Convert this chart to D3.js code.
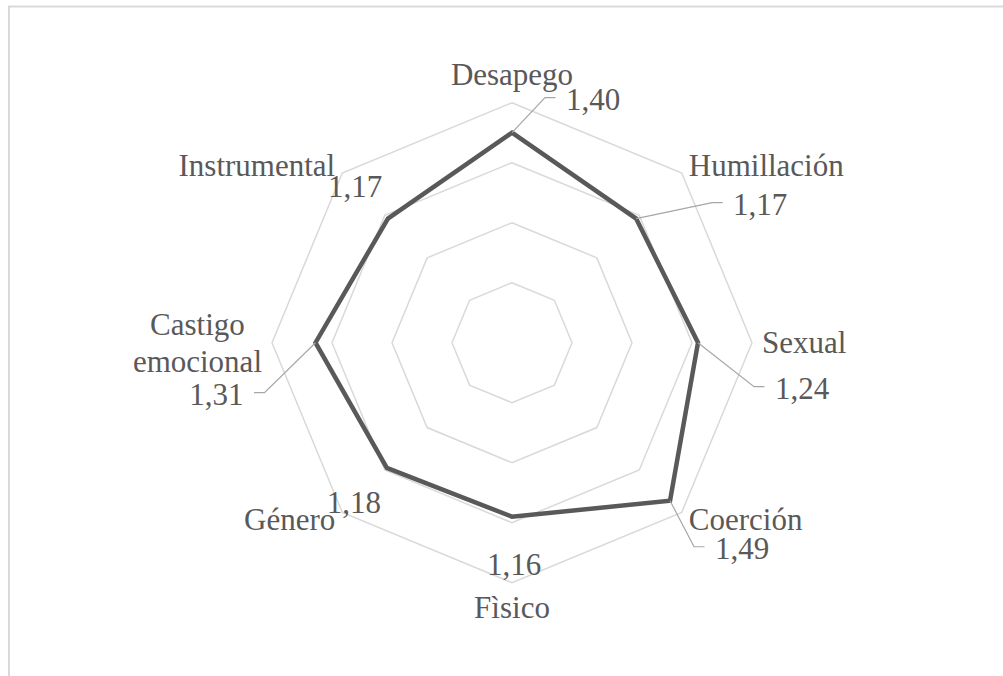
<!DOCTYPE html>
<html>
<head>
<meta charset="utf-8">
<script src="https://cdn.jsdelivr.net/npm/d3@7"></script>
<style>
  html, body { margin: 0; padding: 0; background: #fff; }
  svg { display: block; }
</style>
</head>
<body>
<svg id="chart" width="1003" height="676"></svg>
<script>
// data
const categories = ["Desapego", "Humillación", "Sexual", "Coerción", "Fìsico", "Género", "Castigo emocional", "Instrumental"];
const values = [1.40, 1.17, 1.24, 1.49, 1.16, 1.18, 1.31, 1.17];
const valueLabels = ["1,40", "1,17", "1,24", "1,49", "1,16", "1,18", "1,31", "1,17"];
const gridTicks = [0.4, 0.8, 1.2, 1.6];

// where Excel put the data labels (relative to their point) and whether they got a leader line
const labelOffsets = [[54, -23], [97, -4], [77, 56], [45, 58], [-25, 58], [-60, 45], [-72, 62], [-60, -22]];
const labelAnchors = ["start", "start", "start", "start", "start", "start", "end", "start"];
const labelLeaders = [true, true, true, true, false, false, true, false];

const cx = 512, cy = 342.7, fs = 31;
const font = "'Liberation Serif', 'Times New Roman', Times, 'DejaVu Serif', serif";

let svg = d3.select("#chart");

// chart area border (runs off right and bottom)
svg.append("rect").attr("x", 9).attr("y", 6.5).attr("width", 1010).attr("height", 700)
    .style("fill", "none").style("stroke", "#d9d9d9").style("stroke-width", 2);

let g = svg.append("g").attr("transform", "translate(" + cx + "," + cy + ")");

let r = d3.scaleLinear().domain([0, 1.6]).range([0, 240]);
let angle = d3.scaleLinear().domain([0, categories.length]).range([0, 2 * Math.PI]);

let radial = d3.lineRadial().angle((d, i) => angle(i)).radius(d => r(d)).curve(d3.curveLinearClosed);

// octagon grid
g.selectAll("path.grid").data(gridTicks).enter().append("path").attr("class", "grid")
    .attr("d", t => radial(categories.map(() => t)))
    .style("fill", "none").style("stroke", "#d9d9d9").style("stroke-width", 1.5);

// series
g.append("path").attr("d", radial(values))
    .style("fill", "none").style("stroke", "#595959").style("stroke-width", 4.5).style("stroke-linejoin", "miter");

function pt(i, v) {
    let a = angle(i);
    return [Math.sin(a) * r(v), -Math.cos(a) * r(v)];
}

// category labels just outside the outer ring
g.selectAll("text.cat").data(categories).enter().append("text").attr("class", "cat")
    .attr("font-family", font).attr("font-size", fs).attr("fill", "#595959")
    .each(function(d, i) {
        let a = angle(i), s = Math.sin(a), c = Math.cos(a);
        let p = pt(i, 1.6), x = p[0] + s * 10, y = p[1] - c * 10;
        let anchor = Math.abs(s) < 0.01 ? "middle" : (s > 0 ? "start" : "end");
        let words = d.split(" ");
        let lh = 36.7;
        let base;
        if (c > 0.99) base = y - 7.7;
        else if (c < -0.99) base = y + 25.6;
        else base = y - (words.length - 1) * lh / 2 + 10.5;
        let t = d3.select(this).attr("text-anchor", anchor);
        if (words.length > 1) {
            // two-line label is centred as a block
            t.attr("text-anchor", "middle");
            words.forEach((w, k) => {
                t.append("tspan").attr("x", 0).attr("y", base + k * lh).text(w);
            });
            let bw = this.getBBox().width;
            t.selectAll("tspan").attr("x", anchor == "end" ? x - bw / 2 : x + bw / 2);
        } else {
            t.attr("x", x).attr("y", base).text(d);
        }
    });

// data labels with leader lines
values.forEach((v, i) => {
    let p = pt(i, v);
    let tx = p[0] + labelOffsets[i][0], ty = p[1] + labelOffsets[i][1];
    if (labelLeaders[i]) {
        let dir = labelAnchors[i] == "end" ? 1 : -1;
        let ly = ty - 12;
        g.append("path")
            .attr("d", "M " + p[0] + " " + p[1] + " L " + (tx + dir * 21) + " " + ly + " L " + (tx + dir * 10.5) + " " + ly)
            .style("fill", "none").style("stroke", "#a6a6a6").style("stroke-width", 1.2);
    }
    g.append("text").attr("x", tx).attr("y", ty).attr("text-anchor", labelAnchors[i])
        .attr("font-family", font).attr("font-size", fs).attr("fill", "#595959")
        .text(valueLabels[i]);
});
</script>
</body>
</html>
